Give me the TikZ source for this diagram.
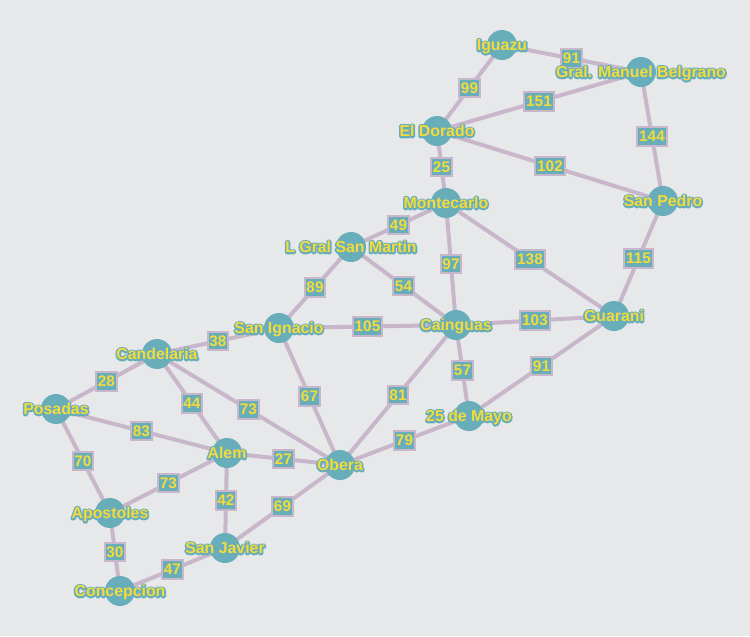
\documentclass[tikz,border=0pt]{standalone}
\usepackage{fontspec}
\setmainfont{Liberation Sans}
\definecolor{bgcol}{HTML}{E7E8EA}
\definecolor{roadcol}{HTML}{C8B7CB}
\definecolor{cityfill}{HTML}{68ADBA}
\definecolor{nametext}{HTML}{F2DB3B}
% yellow name with a teal outline: a stroked copy under the filled text
\newcommand\halo[1]{\leavevmode\rlap{\special{pdf:literal direct 1 Tr 2.4 w 1 j 0.408 0.678 0.729 RG}#1\special{pdf:literal direct 0 Tr}}#1}
\begin{document}
\begin{tikzpicture}[x=0.75pt, y=-0.75pt,
    road/.style={draw=roadcol, line width=3pt},
    dist/.style={fill=cityfill, draw=roadcol, line width=1.4pt, text=nametext,
      font=\bfseries\fontsize{11.5}{13}\selectfont, inner xsep=1.4pt, inner ysep=0pt,
      minimum height=14pt, text height=8.2pt, text depth=0pt},
    city/.style={circle, fill=cityfill, minimum size=22.5pt, inner sep=0pt},
    cityname/.style={text=nametext, font=\bfseries\fontsize{11.9}{13}\selectfont,
      inner sep=0pt, text height=8.5pt, text depth=0pt}]
        \fill[bgcol] (0,0) rectangle (750,636);
        \useasboundingbox (0,0) rectangle (750,636);

        % cities
        \coordinate (igu) at (502, 45);
        \coordinate (bel) at (641, 72);
        \coordinate (dor) at (437, 131);
        \coordinate (ped) at (663, 201);
        \coordinate (mon) at (446, 203);
        \coordinate (lsm) at (351, 247);
        \coordinate (gua) at (614, 316);
        \coordinate (ign) at (279, 328);
        \coordinate (cai) at (456, 325);
        \coordinate (can) at (157, 354);
        \coordinate (pos) at (56, 409);
        \coordinate (may) at (469, 416);
        \coordinate (ale) at (227, 453);
        \coordinate (obe) at (340, 465);
        \coordinate (apo) at (110, 513);
        \coordinate (jav) at (225, 548);
        \coordinate (con) at (120, 591);

        % roads
        \foreach \a/\b/\d in {igu/bel/91, igu/dor/99, dor/bel/151, bel/ped/144,
            dor/ped/102, dor/mon/25, mon/lsm/49, mon/cai/97, mon/gua/138,
            ped/gua/115, lsm/ign/89, lsm/cai/54, ign/cai/105, cai/gua/103,
            gua/may/91, cai/may/57, cai/obe/81, ign/can/38, ign/obe/67,
            can/pos/28, can/ale/44, can/obe/73, pos/ale/83, pos/apo/70,
            ale/obe/27, ale/apo/73, ale/jav/42, obe/may/79, obe/jav/69,
            apo/con/30, con/jav/47}
          \draw[road] (\a) -- node[dist] {\d} (\b);

        \foreach \c in {igu, bel, dor, ped, mon, lsm, gua, ign, cai, can, pos, may, ale, obe, apo, jav, con}
          \node[city] at (\c) {};

        \foreach \c/\t in {igu/Iguazu, bel/Gral. Manuel Belgrano, dor/El Dorado, ped/San Pedro,
            mon/Montecarlo, lsm/L Gral San Martin, gua/Guarani, ign/San Ignacio,
            cai/Cainguas, can/Candelaria, pos/Posadas, may/25 de Mayo, ale/Alem,
            obe/Obera, apo/Apostoles, jav/San Javier, con/Concepcion}
          \node[cityname] at (\c) {\halo{\t}};
      \end{tikzpicture}
\end{document}
